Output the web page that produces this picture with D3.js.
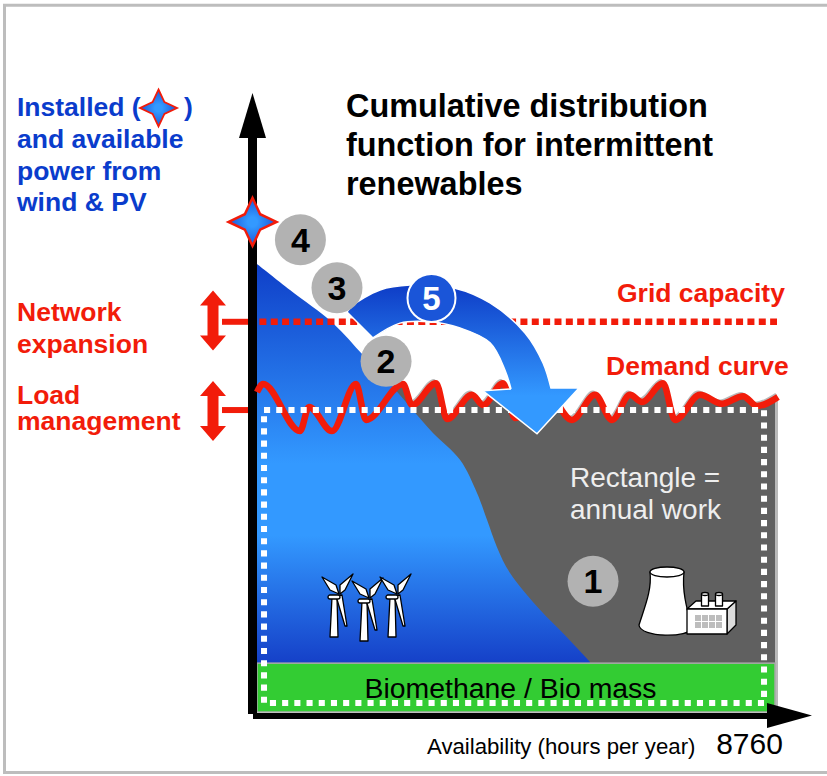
<!DOCTYPE html>
<html>
<head>
<meta charset="utf-8">
<script src="https://cdn.jsdelivr.net/npm/d3@7"></script>
<style>
  html, body { margin: 0; padding: 0; background: #fff; }
  svg { display: block; }
  text { font-family: "Liberation Sans", Arial, sans-serif; }
</style>
</head>
<body>
<svg id="chart" width="827" height="776"></svg>
<script>
// Availability in hours per year, power as a share of installed renewable capacity.
const renewableHours = [0, 555, 1278, 1782, 2152, 2573, 2959, 3413, 3699, 3867, 4035, 4254, 4758, 5212, 5599];
const renewablePower = [100, 94.2, 86.8, 79.7, 74.6, 68.1, 62.3, 56.3, 48.9, 42.9, 36.8, 31.0, 22.8, 16.7, 11.2];

const demandHours = [0, 101, 723, 874, 1261, 1665, 1833, 2455, 2606, 3010, 3195, 3615, 3800, 4136, 4338, 4842,
  5296, 5683, 5969, 6272, 6473, 6827, 7028, 7449, 7819, 8172, 8407, 8760];
const demandPower = [71.4, 73.2, 62.7, 68.1, 62.7, 73.2, 65.2, 73.2, 68.5, 73.4, 65.4, 70.8, 68.5, 73.4, 65.6, 71.9,
  65.2, 70.8, 65.2, 70.8, 69.2, 73.4, 65.2, 70.8, 68.8, 70.5, 68.3, 70.3];

const installedPower = 109.4;
const gridCapacity = 87.1;
const gridStartHours = 40;
const annualWorkTop = 67.4;
const annualWorkBottom = 2.0;
const annualWorkHours = [118, 8525];
const biomassTop = 10.9;
const biomassBottom = 0;
const areaEndHours = 8710;

// Outer edge, head and inner edge of the curved shift arrow.
const shiftOuterHours = [1513, 1597, 2068, 2573, 3329, 3918, 4506, 4809, 4943];
const shiftOuterPower = [89.3, 90.6, 94.2, 95.3, 94.6, 91.3, 84.6, 77.9, 72.3];
const shiftHeadHours = [5414, 4708, 3800, 4271];
const shiftHeadPower = [72.3, 62.1, 71.7, 72.1];
const shiftInnerHours = [4271, 4170, 3918, 3413, 2909, 2404, 1950];
const shiftInnerPower = [72.1, 76.3, 82.4, 85.7, 87.1, 86.8, 83.5];

const xTickValues = [8760];
const stepLabels = ["1", "2", "3", "4"];
const stepHours = [5650, 2170, 1345, 730];
const stepPower = [29.2, 78.3, 94.7, 105.4];

const RED = "#f21c0a", BLUE_TEXT = "#0a3ccc", DARK_BLUE = "#0f3fc8", LIGHT_BLUE = "#3399ff";
const GREY_AREA = "#606060", GREY_EDGE = "#b9b9b9", GREY_DISC = "#b2b2b2", GREEN = "#33cc33";

const x = d3.scaleLinear().domain([0, 8760]).range([257, 778]);
const y = d3.scaleLinear().domain([0, 100]).range([712, 264]);

const svg = d3.select("#chart");
const defs = svg.append("defs");

function verticalGradient(id, y1, y2, stops) {
  const g = defs.append("linearGradient").attr("id", id)
    .attr("gradientUnits", "userSpaceOnUse")
    .attr("x1", 0).attr("x2", 0).attr("y1", y1).attr("y2", y2);
  stops.forEach(([o, c]) => g.append("stop").attr("offset", o).attr("stop-color", c));
}
verticalGradient("blueArea", y(100), y(biomassTop), [[0, DARK_BLUE], [0.5, LIGHT_BLUE], [0.68, LIGHT_BLUE], [1, "#1540c8"]]);
verticalGradient("shiftFill", 288, 396, [[0, DARK_BLUE], [1, LIGHT_BLUE]]);
verticalGradient("discFill", 274, 322, [[0, "#1a55d8"], [0.5, LIGHT_BLUE], [1, "#1a55d8"]]);
const starGrad = defs.append("radialGradient").attr("id", "starFill");
starGrad.append("stop").attr("offset", 0.2).attr("stop-color", LIGHT_BLUE);
starGrad.append("stop").attr("offset", 1).attr("stop-color", "#1a55d8");

defs.append("clipPath").attr("id", "greyClip").append("rect")
  .attr("x", x(0)).attr("y", 300).attr("width", x(areaEndHours) - x(0)).attr("height", 420);
defs.append("clipPath").attr("id", "edgeClip").append("rect")
  .attr("x", x(0)).attr("y", 300).attr("width", x(areaEndHours) - x(0) + 3).attr("height", 420);

// Outer frame
svg.append("path").attr("d", "M827,5.3H4.5V772.5H827").attr("fill", "none")
  .attr("stroke", "#bdbdbd").attr("stroke-width", 3);

const demand = demandHours.map((h, i) => [h, demandPower[i]]);
const renewable = renewableHours.map((h, i) => [h, renewablePower[i]]);

// Residual load served by dispatchable plants
const demandArea = d3.area().x(d => x(d[0])).y0(y(biomassBottom)).y1(d => y(d[1])).curve(d3.curveMonotoneX);
const demandLine = d3.line().x(d => x(d[0])).y(d => y(d[1])).curve(d3.curveMonotoneX);

svg.append("path").attr("d", demandArea(demand)).attr("fill", GREY_EDGE).attr("clip-path", "url(#edgeClip)");
svg.append("path").attr("d", demandArea(demand)).attr("fill", GREY_AREA).attr("clip-path", "url(#greyClip)");
svg.append("g").attr("transform", "translate(-2,-3)")
  .append("path").attr("d", demandLine(demand)).attr("fill", "none")
  .attr("stroke", GREY_EDGE).attr("stroke-width", 2.5);

// Wind and PV duration curve
const renewableArea = d3.area().x(d => x(d[0])).y0(y(biomassTop)).y1(d => y(d[1])).curve(d3.curveCatmullRom.alpha(0.5));
svg.append("path").attr("d", renewableArea(renewable)).attr("fill", "url(#blueArea)");

// Biomass band
svg.append("rect")
  .attr("x", x(0)).attr("y", y(biomassTop))
  .attr("width", x(areaEndHours) - x(0)).attr("height", y(biomassBottom) - y(biomassTop))
  .attr("fill", GREEN).attr("stroke", "#a9a9a9").attr("stroke-width", 1.5);
svg.append("text").attr("x", 510.5).attr("y", 698).attr("text-anchor", "middle")
  .attr("font-size", 28.4).attr("fill", "#000").text("Biomethane / Bio mass");

// Axes
const axisColor = "#000";
svg.append("rect").attr("x", 248).attr("y", 130).attr("width", 9).attr("height", 584).attr("fill", axisColor);
svg.append("rect").attr("x", 253).attr("y", 713).attr("width", 520).attr("height", 6).attr("fill", axisColor);
svg.append("path").attr("d", d3.line()([[252.5, 93], [266, 138], [239, 138]]) + "Z").attr("fill", axisColor);
svg.append("path").attr("d", d3.line()([[812, 715.5], [767, 703], [767, 728]]) + "Z").attr("fill", axisColor);

const xAxis = d3.axisBottom(x).tickValues(xTickValues).tickSize(0).tickFormat(d3.format("d"));
const xAxisG = svg.append("g").attr("transform", "translate(0,718)").call(xAxis);
xAxisG.select(".domain").remove();
xAxisG.selectAll("text")
  .attr("font-size", 30).attr("fill", "#000").attr("text-anchor", "middle")
  .attr("dx", -29).attr("y", 35.5).attr("dy", 0)
  .style("font-family", '"Liberation Sans", Arial, sans-serif');
svg.append("text").attr("x", 427).attr("y", 754).attr("font-size", 22.2).attr("fill", "#000")
  .text("Availability (hours per year)");

// Grid capacity limit
svg.append("line")
  .attr("x1", x(gridStartHours)).attr("x2", 777).attr("y1", y(gridCapacity)).attr("y2", y(gridCapacity))
  .attr("stroke", RED).attr("stroke-width", 6.5).attr("stroke-dasharray", "7 4.35");

// Connectors from the left-hand arrows to the axis
[gridCapacity, annualWorkTop].forEach(v => {
  svg.append("line").attr("x1", 222).attr("x2", 248).attr("y1", y(v)).attr("y2", y(v))
    .attr("stroke", RED).attr("stroke-width", 6);
});

// Demand curve, with the annual-work rectangle dotted over it
svg.append("path").attr("d", demandLine(demand)).attr("fill", "none")
  .attr("stroke", RED).attr("stroke-width", 6.5).attr("stroke-linejoin", "round");
svg.append("rect")
  .attr("x", x(annualWorkHours[0])).attr("y", y(annualWorkTop))
  .attr("width", x(annualWorkHours[1]) - x(annualWorkHours[0]))
  .attr("height", y(annualWorkBottom) - y(annualWorkTop))
  .attr("fill", "none").attr("stroke", "#fff").attr("stroke-width", 6).attr("stroke-dasharray", "6.1 6.1");

// Curved arrow moving surplus power into later hours
const pt = (h, p) => [x(h), y(p)];
const smooth = d3.line().curve(d3.curveCatmullRom.alpha(0.5));
const outer = shiftOuterHours.map((h, i) => pt(h, shiftOuterPower[i]));
const inner = shiftInnerHours.map((h, i) => pt(h, shiftInnerPower[i]));
const head = shiftHeadHours.map((h, i) => pt(h, shiftHeadPower[i]));
svg.append("path")
  .attr("d", smooth(outer) + "L" + head.map(p => p.join(",")).join("L") + smooth(inner).replace(/^M/, "L") + "Z")
  .attr("fill", "url(#shiftFill)").attr("stroke", "#fff").attr("stroke-width", 1.5).attr("stroke-linejoin", "miter");

// Four-pointed star symbol for installed power
const starSymbol = {
  draw(ctx, size) {
    const r = Math.sqrt(size), k = r * 0.32;
    ctx.moveTo(0, -r);
    ctx.lineTo(k, -k); ctx.lineTo(r, 0); ctx.lineTo(k, k);
    ctx.lineTo(0, r); ctx.lineTo(-k, k); ctx.lineTo(-r, 0); ctx.lineTo(-k, -k);
    ctx.closePath();
  }
};
svg.append("path").attr("d", d3.symbol().type(starSymbol).size(24 * 24)())
  .attr("transform", `translate(${x(0) - 4.5},${y(installedPower)})`)
  .attr("fill", "url(#starFill)").attr("stroke", RED).attr("stroke-width", 2.5);
svg.append("path").attr("d", d3.symbol().type(starSymbol).size(18.5 * 18.5)())
  .attr("transform", "translate(158.5,108)")
  .attr("fill", "url(#starFill)").attr("stroke", RED).attr("stroke-width", 1.8);

// Numbered steps
stepLabels.forEach((label, i) => {
  const g = svg.append("g").attr("transform", `translate(${x(stepHours[i])},${y(stepPower[i])})`);
  g.append("circle").attr("r", 25.5).attr("fill", GREY_DISC);
  g.append("text").attr("text-anchor", "middle").attr("y", 12).attr("font-size", 34)
    .attr("font-weight", "bold").attr("fill", "#000").text(label);
});
const five = svg.append("g").attr("transform", "translate(431.5,298)");
five.append("circle").attr("r", 24).attr("fill", "url(#discFill)").attr("stroke", "#fff").attr("stroke-width", 2);
five.append("text").attr("text-anchor", "middle").attr("y", 11.5).attr("font-size", 33)
  .attr("font-weight", "bold").attr("fill", "#fff").text("5");

// Double-headed arrows for network expansion and load management
const doubleArrow = d3.line()([[0, -30], [13, -15], [5.5, -15], [5.5, 15], [13, 15], [0, 30], [-13, 15], [-5.5, 15], [-5.5, -15], [-13, -15]]) + "Z";
[320.5, 411].forEach(cy => {
  svg.append("path").attr("d", doubleArrow).attr("transform", `translate(213,${cy})`).attr("fill", RED);
});

// Text labels
function lines(xPos, ys, texts, size, color, weight) {
  texts.forEach((t, i) => {
    svg.append("text").attr("x", xPos).attr("y", ys[i]).attr("font-size", size)
      .attr("font-weight", weight).attr("fill", color).text(t);
  });
}
lines(346, [117, 156, 195], ["Cumulative distribution", "function for intermittent", "renewables"], 32.4, "#000", "bold");
lines(17, [116, 148, 180, 211], ["Installed (", "and available", "power from", "wind & PV"], 26.5, BLUE_TEXT, "bold");
lines(184, [116], [")"], 26.5, BLUE_TEXT, "bold");
lines(17, [321, 353], ["Network", "expansion"], 26.5, RED, "bold");
lines(17, [404, 430], ["Load", "management"], 26.5, RED, "bold");
lines(617, [302], ["Grid capacity"], 26.5, RED, "bold");
lines(606, [375], ["Demand curve"], 26.5, RED, "bold");
lines(570, [487, 519], ["Rectangle =", "annual work"], 28, "#eeeeee", "normal");

// Wind turbine icon: blades around the hub, tower below it
const turbineHubs = [[339, 593], [369, 597], [397, 593]];
turbineHubs.forEach(([hx, hy]) => {
  const g = svg.append("g").attr("transform", `translate(${hx},${hy})`)
    .attr("fill", "#fff").attr("stroke", "#000").attr("stroke-width", 1.3).attr("stroke-linejoin", "round");
  g.append("path").attr("d", "M-7,4 L-2,4 L-1,44 L-9,44 Z");
  g.append("path").attr("d", "M0,1 L-9,-3 L-17,-16 L-3,-8 Z");
  g.append("path").attr("d", "M1,1 L1,-8 L14,-19 L6,-3 Z");
  g.append("path").attr("d", "M-3,3 L3,2 L8,33 L6,33 Z");
  g.append("rect").attr("x", -11).attr("y", 2).attr("width", 12).attr("height", 4).attr("rx", 2);
});

// Conventional plant icon: cooling tower and turbine hall
const plant = svg.append("g").attr("stroke", "#000").attr("stroke-width", 1.3).attr("fill", "#fff").attr("stroke-linejoin", "round");
plant.append("path").attr("d", "M650,572 C652,590 645,606 639,625 C640,638 690,638 692,628 C686,606 682,590 684,572 Z");
plant.append("ellipse").attr("cx", 667).attr("cy", 572).attr("rx", 17).attr("ry", 5);
plant.append("path").attr("d", "M727,609 L736,601 L736,625 L727,634 Z").attr("fill", "#dcdcdc");
plant.append("path").attr("d", "M687,609 L696,601 L736,601 L727,609 Z");
plant.append("rect").attr("x", 701.5).attr("y", 594).attr("width", 7).attr("height", 12);
plant.append("rect").attr("x", 715.5).attr("y", 594).attr("width", 7).attr("height", 12);
plant.append("ellipse").attr("cx", 705).attr("cy", 594).attr("rx", 3.5).attr("ry", 1.5);
plant.append("ellipse").attr("cx", 719).attr("cy", 594).attr("rx", 3.5).attr("ry", 1.5);
plant.append("rect").attr("x", 687).attr("y", 609).attr("width", 40).attr("height", 25);
d3.range(4).forEach(c => d3.range(2).forEach(r => {
  svg.append("rect").attr("x", 695 + c * 7).attr("y", 615 + r * 7).attr("width", 6).attr("height", 6).attr("fill", "#bdbdbd");
}));
</script>
</body>
</html>
